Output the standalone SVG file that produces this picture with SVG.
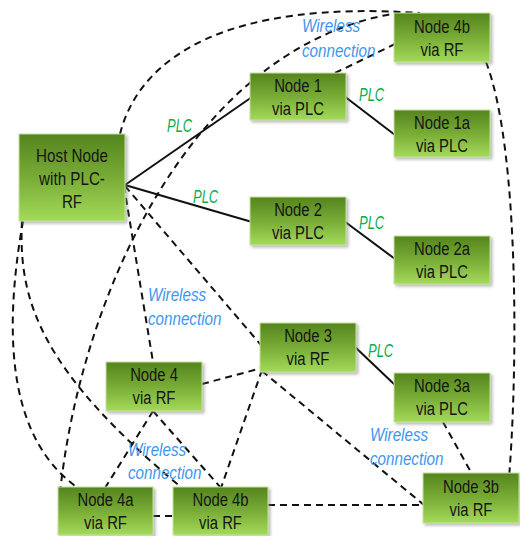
<svg xmlns="http://www.w3.org/2000/svg" width="520" height="536" viewBox="0 0 520 536">
<defs>
<linearGradient id="g" x1="0" y1="0" x2="0" y2="1">
<stop offset="0" stop-color="#55841e"/>
<stop offset="0.5" stop-color="#78ac36"/>
<stop offset="1" stop-color="#a4da5a"/>
</linearGradient>
<filter id="sh" x="-10%" y="-10%" width="130%" height="140%">
<feDropShadow dx="2" dy="2" stdDeviation="1.5" flood-color="#808080" flood-opacity="0.55"/>
</filter>
<style>
.n rect { fill: url(#g); stroke: #c4e39a; stroke-width: 1; filter: url(#sh); }
.t { font-family: "Liberation Sans", Arial, sans-serif; font-size: 19px; fill: #151515; text-anchor: middle; }
.w { font-family: "Liberation Sans", Arial, sans-serif; font-style: italic; font-size: 19px; fill: #3d97ee; }
.p { font-family: "Liberation Sans", Arial, sans-serif; font-style: italic; font-size: 18px; fill: #0aae4c; }
.d { fill: none; stroke: #111; stroke-width: 2; stroke-dasharray: 7 5; }
.s { fill: none; stroke: #111; stroke-width: 2; }
</style>
</defs>
<rect width="520" height="536" fill="#ffffff"/>
<g id="connectors">
<line class="s" x1="125" y1="185" x2="252" y2="97"/>
<line class="s" x1="125" y1="185" x2="252" y2="222"/>
<line class="s" x1="344" y1="96" x2="395" y2="135"/>
<line class="s" x1="344" y1="221" x2="395" y2="259"/>
<line class="s" x1="354" y1="346" x2="395" y2="385"/>
<path class="d" d="M120,134 C140,55 230,0 420,13"/>
<path class="d" d="M60,493 C80,300 190,45 398,13"/>
<line class="d" x1="335" y1="73" x2="395" y2="44"/>
<path class="d" d="M23,221 C2,340 10,440 78,488"/>
<path class="d" d="M22,221 C18,300 40,370 182,488"/>
<line class="d" x1="124" y1="186" x2="153" y2="362"/>
<line class="d" x1="125" y1="186" x2="261" y2="345"/>
<line class="d" x1="202" y1="384" x2="262" y2="368"/>
<line class="d" x1="262" y1="370" x2="221" y2="488"/>
<line class="d" x1="262" y1="371" x2="424" y2="505"/>
<line class="d" x1="153" y1="411" x2="105" y2="488"/>
<line class="d" x1="153" y1="411" x2="221" y2="488"/>
<line class="d" x1="153" y1="516" x2="173" y2="516"/>
<line class="d" x1="268" y1="505" x2="424" y2="505"/>
<line class="d" x1="443" y1="422" x2="472" y2="474"/>
<path class="d" d="M486,62 C520,150 518,380 508,490"/>
</g>
<g id="host" class="n">
<rect x="19" y="134" width="106" height="87"/>
<text class="t" transform="translate(72,162) scale(0.8,1)">Host Node</text>
<text class="t" transform="translate(72,185) scale(0.8,1)">with PLC-</text>
<text class="t" transform="translate(72,208) scale(0.8,1)">RF</text>
</g>
<g id="node1" class="n">
<rect x="250" y="73" width="96" height="47"/>
<text class="t" transform="translate(298,92) scale(0.78,1)">Node 1</text>
<text class="t" transform="translate(298,115) scale(0.78,1)">via PLC</text>
</g>
<g id="node1a" class="n">
<rect x="394" y="110" width="96" height="47"/>
<text class="t" transform="translate(442,129) scale(0.78,1)">Node 1a</text>
<text class="t" transform="translate(442,152) scale(0.78,1)">via PLC</text>
</g>
<g id="node2" class="n">
<rect x="250" y="197" width="96" height="48"/>
<text class="t" transform="translate(298,216) scale(0.78,1)">Node 2</text>
<text class="t" transform="translate(298,239) scale(0.78,1)">via PLC</text>
</g>
<g id="node2a" class="n">
<rect x="394" y="236" width="96" height="48"/>
<text class="t" transform="translate(442,255) scale(0.78,1)">Node 2a</text>
<text class="t" transform="translate(442,278) scale(0.78,1)">via PLC</text>
</g>
<g id="node3" class="n">
<rect x="260" y="323" width="96" height="49"/>
<text class="t" transform="translate(308,342) scale(0.78,1)">Node 3</text>
<text class="t" transform="translate(308,365) scale(0.78,1)">via RF</text>
</g>
<g id="node3a" class="n">
<rect x="394" y="373" width="96" height="49"/>
<text class="t" transform="translate(442,392) scale(0.78,1)">Node 3a</text>
<text class="t" transform="translate(442,415) scale(0.78,1)">via PLC</text>
</g>
<g id="node3b" class="n">
<rect x="423" y="473" width="96" height="50"/>
<text class="t" transform="translate(471,493) scale(0.78,1)">Node 3b</text>
<text class="t" transform="translate(471,516) scale(0.78,1)">via RF</text>
</g>
<g id="node4" class="n">
<rect x="106" y="362" width="96" height="49"/>
<text class="t" transform="translate(154,381) scale(0.78,1)">Node 4</text>
<text class="t" transform="translate(154,404) scale(0.78,1)">via RF</text>
</g>
<g id="node4a" class="n">
<rect x="58" y="487" width="95" height="48"/>
<text class="t" transform="translate(105.5,506) scale(0.78,1)">Node 4a</text>
<text class="t" transform="translate(105.5,529) scale(0.78,1)">via RF</text>
</g>
<g id="node4b-bottom" class="n">
<rect x="173" y="487" width="95" height="48"/>
<text class="t" transform="translate(220.5,506) scale(0.78,1)">Node 4b</text>
<text class="t" transform="translate(220.5,529) scale(0.78,1)">via RF</text>
</g>
<g id="node4b-top" class="n">
<rect x="394" y="13" width="96" height="49"/>
<text class="t" transform="translate(442,33) scale(0.78,1)">Node 4b</text>
<text class="t" transform="translate(442,56) scale(0.78,1)">via RF</text>
</g>
<g id="labels">
<text class="p" transform="translate(167,132) scale(0.72,1)">PLC</text>
<text class="p" transform="translate(193,203) scale(0.72,1)">PLC</text>
<text class="p" transform="translate(359,101) scale(0.72,1)">PLC</text>
<text class="p" transform="translate(359,229) scale(0.72,1)">PLC</text>
<text class="p" transform="translate(368,357) scale(0.72,1)">PLC</text>
<text class="w" transform="translate(302,32) scale(0.8,1)">Wireless</text>
<text class="w" transform="translate(302,57) scale(0.8,1)">connection</text>
<text class="w" transform="translate(148,301) scale(0.8,1)">Wireless</text>
<text class="w" transform="translate(148,325) scale(0.8,1)">connection</text>
<text class="w" transform="translate(128,456) scale(0.8,1)">Wireless</text>
<text class="w" transform="translate(128,479) scale(0.8,1)">connection</text>
<text class="w" transform="translate(370,441) scale(0.8,1)">Wireless</text>
<text class="w" transform="translate(370,465) scale(0.8,1)">connection</text>
</g>
</svg>
